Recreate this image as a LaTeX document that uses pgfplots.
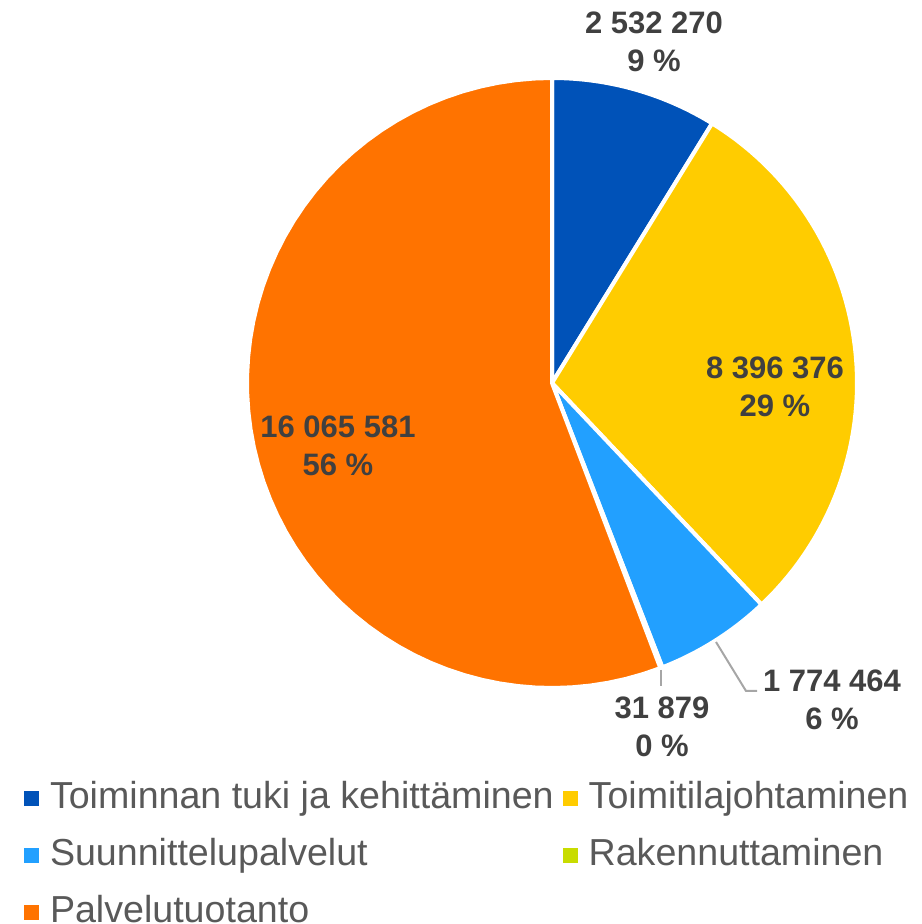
\documentclass[border=0pt]{standalone}
\usepackage{pgfplots}
\pgfplotsset{compat=1.18}
\usepackage{fontspec}
\setmainfont{Liberation Sans}
\definecolor{cA}{HTML}{0052B8}
\definecolor{cB}{HTML}{FFCC00}
\definecolor{cC}{HTML}{22A0FF}
\definecolor{cD}{HTML}{C8DC00}
\definecolor{cE}{HTML}{FF7300}
\definecolor{lab}{HTML}{404040}
\definecolor{leg}{HTML}{595959}
\definecolor{lead}{HTML}{A6A6A6}
% values
\def\vA{2532270}\def\vB{8396376}\def\vC{1774464}\def\vD{31879}\def\vE{16065581}
\edef\tot{\fpeval{\vA+\vB+\vC+\vD+\vE}}
\edef\aA{\fpeval{90-360*\vA/\tot}}
\edef\aB{\fpeval{\aA-360*\vB/\tot}}
\edef\aC{\fpeval{\aB-360*\vC/\tot}}
\edef\aD{\fpeval{\aC-360*\vD/\tot}}
\def\aE{-270}
\begin{document}
\begin{tikzpicture}
\useasboundingbox (0,0) rectangle (461bp,462bp);
\begin{axis}[
  hide axis, scale only axis, width=461bp, height=462bp,
  xmin=0, xmax=922, ymin=0, ymax=924, clip=false,
  legend columns=2,
  legend cell align=left,
  legend image code/.code={\fill[#1,draw=none] (0bp,-3.75bp) rectangle (7.5bp,3.75bp);},
  legend style={at={(axis cs:24,143)}, anchor=north west, draw=none, fill=none,
    inner sep=0pt, outer sep=0pt, row sep=11bp,
    font=\fontsize{18.8bp}{22bp}\selectfont, text=leg,
    nodes={inner sep=0pt, text height=13.5bp, text depth=4bp},
    /tikz/every odd column/.append style={column sep=5.5bp},
    /tikz/every even column/.append style={column sep=4.5bp}},
  every axis plot/.append style={draw=white, line width=2bp, samples=60, variable=\t},
]
\addplot[fill=cA, domain=\aA:90] ({552+305*cos(\t)},{541+305*sin(\t)}) -- (552,541) -- cycle;
\addlegendentry{Toiminnan tuki ja kehittäminen}
\addplot[fill=cB, domain=\aB:\aA] ({552+305*cos(\t)},{541+305*sin(\t)}) -- (552,541) -- cycle;
\addlegendentry{Toimitilajohtaminen}
\addplot[fill=cC, domain=\aC:\aB] ({552+305*cos(\t)},{541+305*sin(\t)}) -- (552,541) -- cycle;
\addlegendentry{Suunnittelupalvelut}
\addplot[fill=cD, domain=\aD:\aC] ({552+305*cos(\t)},{541+305*sin(\t)}) -- (552,541) -- cycle;
\addlegendentry{Rakennuttaminen}
\addplot[fill=cE, domain=\aE:\aD] ({552+305*cos(\t)},{541+305*sin(\t)}) -- (552,541) -- cycle;
\addlegendentry{Palvelutuotanto}
% leader lines
\addplot[forget plot, draw=lead, line width=1bp] coordinates {(716,282) (746,233) (757,233)};
\addplot[forget plot, draw=lead, line width=1bp] coordinates {(661,254) (661,238)};
% labels
\begin{scope}[every node/.style={align=center, text=lab, font=\fontsize{15.5bp}{19bp}\selectfont\bfseries, inner sep=0pt}]
\node at (654,882.5) {2 532 270\\9 \%};
\node at (775,537.5) {8 396 376\\29 \%};
\node at (832,224) {1 774 464\\6 \%};
\node at (662,197.5) {31 879\\0 \%};
\node at (338,478) {16 065 581\\56 \%};
\end{scope}
\end{axis}
\end{tikzpicture}
\end{document}
